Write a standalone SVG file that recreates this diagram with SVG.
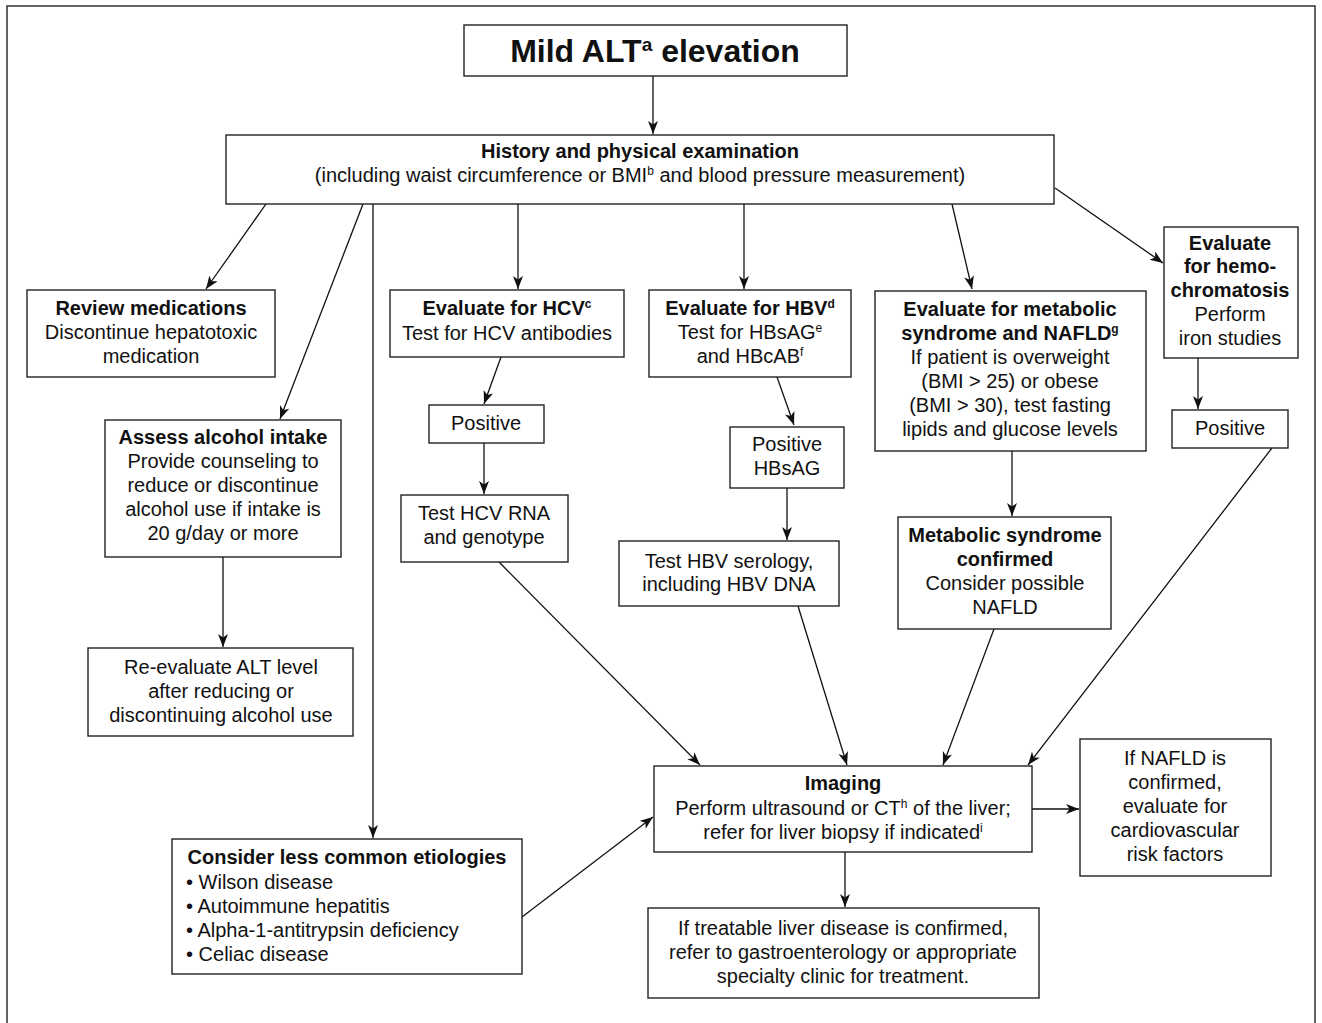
<svg xmlns="http://www.w3.org/2000/svg" width="1322" height="1023" viewBox="0 0 1322 1023">
<defs>
<marker id="ah" markerUnits="userSpaceOnUse" markerWidth="14" markerHeight="11" refX="13" refY="5" orient="auto">
<path d="M0,0 L13,5 L0,10 L3.5,5 z" fill="#111"/>
</marker>
<style>
rect.box{fill:#fff;stroke:#222;stroke-width:1.4}
text{font-family:"Liberation Sans",Arial,sans-serif;font-size:20px;fill:#111;text-anchor:middle}
text.b{font-weight:bold}
text.l{text-anchor:start}
.sup{font-size:12px}
#connectors line{stroke:#111;stroke-width:1.3;marker-end:url(#ah)}
</style>
</defs>
<rect x="7" y="6" width="1308" height="1030" fill="#fff" stroke="#222" stroke-width="1.4"/>

<g id="connectors">
<line x1="653" y1="76" x2="653" y2="134"/>
<line x1="266" y1="204" x2="206" y2="289"/>
<line x1="363" y1="204" x2="280" y2="419"/>
<line x1="373" y1="204" x2="373" y2="838"/>
<line x1="518" y1="204" x2="518" y2="289"/>
<line x1="744" y1="204" x2="744" y2="289"/>
<line x1="952" y1="204" x2="972" y2="289"/>
<line x1="1055" y1="188" x2="1163" y2="263"/>
<line x1="501" y1="357" x2="484" y2="404"/>
<line x1="484" y1="443" x2="484" y2="494"/>
<line x1="777" y1="377" x2="794" y2="425"/>
<line x1="787" y1="488" x2="787" y2="540"/>
<line x1="1012" y1="451" x2="1012" y2="516"/>
<line x1="1198" y1="358" x2="1198" y2="409"/>
<line x1="223" y1="557" x2="223" y2="647"/>
<line x1="499" y1="562" x2="700" y2="765"/>
<line x1="798" y1="606" x2="847" y2="765"/>
<line x1="994" y1="629" x2="943" y2="765"/>
<line x1="1272" y1="448" x2="1028" y2="765"/>
<line x1="522" y1="917" x2="653" y2="817"/>
<line x1="1032" y1="809" x2="1079" y2="809"/>
<line x1="845" y1="852" x2="845" y2="907"/>
</g>

<g id="n-title">
<rect class="box" x="464" y="25" width="383" height="51"/>
<text class="b" x="655" y="62" style="font-size:32px">Mild ALT<tspan dy="-11" style="font-size:19px">a</tspan><tspan dy="11"> elevation</tspan></text>
</g>

<g id="n-history">
<rect class="box" x="226" y="135" width="828" height="69"/>
<text class="b" x="640" y="158">History and physical examination</text>
<text x="640" y="182">(including waist circumference or BMI<tspan class="sup" dy="-7">b</tspan><tspan dy="7"> and blood pressure measurement)</tspan></text>
</g>

<g id="n-review">
<rect class="box" x="27" y="290" width="248" height="87"/>
<text class="b" x="151" y="315">Review medications</text>
<text x="151" y="339">Discontinue hepatotoxic</text>
<text x="151" y="363">medication</text>
</g>

<g id="n-alcohol">
<rect class="box" x="105" y="420" width="236" height="137"/>
<text class="b" x="223" y="444">Assess alcohol intake</text>
<text x="223" y="468">Provide counseling to</text>
<text x="223" y="492">reduce or discontinue</text>
<text x="223" y="516">alcohol use if intake is</text>
<text x="223" y="540">20 g/day or more</text>
</g>

<g id="n-reeval">
<rect class="box" x="88" y="648" width="265" height="88"/>
<text x="221" y="674">Re-evaluate ALT level</text>
<text x="221" y="698">after reducing or</text>
<text x="221" y="722">discontinuing alcohol use</text>
</g>

<g id="n-hcv">
<rect class="box" x="390" y="290" width="234" height="67"/>
<text class="b" x="507" y="315">Evaluate for HCV<tspan class="sup" dy="-7">c</tspan></text>
<text x="507" y="340">Test for HCV antibodies</text>
</g>

<g id="n-hcv-pos">
<rect class="box" x="429" y="405" width="115" height="38"/>
<text x="486" y="430">Positive</text>
</g>

<g id="n-hcv-rna">
<rect class="box" x="401" y="495" width="167" height="67"/>
<text x="484" y="520">Test HCV RNA</text>
<text x="484" y="544">and genotype</text>
</g>

<g id="n-hbv">
<rect class="box" x="649" y="290" width="202" height="87"/>
<text class="b" x="750" y="315">Evaluate for HBV<tspan class="sup" dy="-7">d</tspan></text>
<text x="750" y="339">Test for HBsAG<tspan class="sup" dy="-7">e</tspan></text>
<text x="750" y="363">and HBcAB<tspan class="sup" dy="-7">f</tspan></text>
</g>

<g id="n-hbv-pos">
<rect class="box" x="730" y="427" width="114" height="61"/>
<text x="787" y="451">Positive</text>
<text x="787" y="475">HBsAG</text>
</g>

<g id="n-hbv-sero">
<rect class="box" x="619" y="541" width="220" height="65"/>
<text x="729" y="568">Test HBV serology,</text>
<text x="729" y="591">including HBV DNA</text>
</g>

<g id="n-metabolic">
<rect class="box" x="875" y="291" width="271" height="160"/>
<text class="b" x="1010" y="316">Evaluate for metabolic</text>
<text class="b" x="1010" y="340">syndrome and NAFLD<tspan class="sup" dy="-7">g</tspan></text>
<text x="1010" y="364">If patient is overweight</text>
<text x="1010" y="388">(BMI &gt; 25) or obese</text>
<text x="1010" y="412">(BMI &gt; 30), test fasting</text>
<text x="1010" y="436">lipids and glucose levels</text>
</g>

<g id="n-metconf">
<rect class="box" x="898" y="517" width="213" height="112"/>
<text class="b" x="1005" y="542">Metabolic syndrome</text>
<text class="b" x="1005" y="566">confirmed</text>
<text x="1005" y="590">Consider possible</text>
<text x="1005" y="614">NAFLD</text>
</g>

<g id="n-hemo">
<rect class="box" x="1164" y="227" width="134" height="131"/>
<text class="b" x="1230" y="250">Evaluate</text>
<text class="b" x="1230" y="273">for hemo-</text>
<text class="b" x="1230" y="297">chromatosis</text>
<text x="1230" y="321">Perform</text>
<text x="1230" y="345">iron studies</text>
</g>

<g id="n-hemo-pos">
<rect class="box" x="1172" y="410" width="116" height="38"/>
<text x="1230" y="435">Positive</text>
</g>

<g id="n-consider">
<rect class="box" x="172" y="839" width="350" height="135"/>
<text class="b" x="347" y="864">Consider less common etiologies</text>
<text class="l" x="186" y="889">• Wilson disease</text>
<text class="l" x="186" y="913">• Autoimmune hepatitis</text>
<text class="l" x="186" y="937">• Alpha-1-antitrypsin deficiency</text>
<text class="l" x="186" y="961">• Celiac disease</text>
</g>

<g id="n-imaging">
<rect class="box" x="654" y="766" width="378" height="86"/>
<text class="b" x="843" y="790">Imaging</text>
<text x="843" y="815">Perform ultrasound or CT<tspan class="sup" dy="-7">h</tspan><tspan dy="7"> of the liver;</tspan></text>
<text x="843" y="839">refer for liver biopsy if indicated<tspan class="sup" dy="-7">i</tspan></text>
</g>

<g id="n-nafld">
<rect class="box" x="1080" y="739" width="191" height="137"/>
<text x="1175" y="765">If NAFLD is</text>
<text x="1175" y="789">confirmed,</text>
<text x="1175" y="813">evaluate for</text>
<text x="1175" y="837">cardiovascular</text>
<text x="1175" y="861">risk factors</text>
</g>

<g id="n-treat">
<rect class="box" x="648" y="908" width="391" height="90"/>
<text x="843" y="935">If treatable liver disease is confirmed,</text>
<text x="843" y="959">refer to gastroenterology or appropriate</text>
<text x="843" y="983">specialty clinic for treatment.</text>
</g>
</svg>
